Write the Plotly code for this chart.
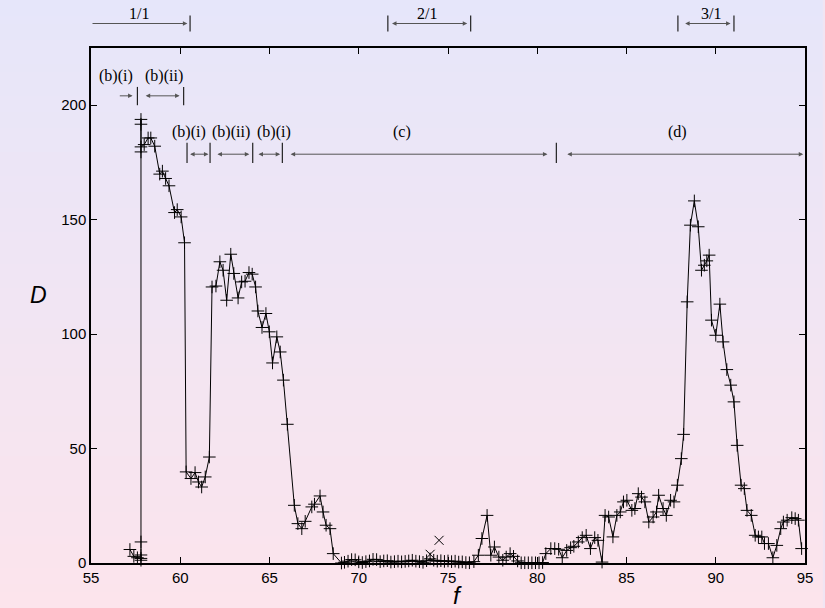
import plotly.graph_objects as go

# ---------------- data ----------------
f_vals = [57.18, 57.4, 57.6, 57.8, 57.8, 57.8, 57.8, 57.8, 57.8, 57.8, 57.8,
          57.98, 58.2, 58.35, 58.57, 58.85, 59.0, 59.18, 59.37, 59.68, 59.83, 60.05, 60.24,
          60.33, 60.6, 60.83, 61.02, 61.2, 61.4, 61.63,
          61.78, 62.0, 62.22, 62.4, 62.6, 62.83, 63.0, 63.24, 63.44, 63.63, 63.85, 64.03, 64.22,
          64.35, 64.58, 64.8, 64.99, 65.17, 65.41, 65.6, 65.78, 66.0,
          66.39, 66.59, 66.81, 67.0, 67.37, 67.52, 67.83, 68.0, 68.17, 68.39, 68.57, 69.03,
          69.2, 69.4, 69.6, 69.8, 70.0, 70.2, 70.4, 70.6, 70.8, 71.0, 71.2, 71.4, 71.6, 71.8,
          72.0, 72.2, 72.4, 72.6, 72.8, 73.0, 73.2, 73.4, 73.6, 73.8, 74.0, 74.2, 74.4, 74.6,
          74.8, 75.0, 75.2, 75.4, 75.6, 75.8, 76.0, 76.2,
          76.45, 76.7, 76.9, 77.19, 77.4, 77.6, 77.85, 78.07, 78.26, 78.48, 78.67, 78.9,
          79.1, 79.3, 79.5, 79.7, 79.9, 80.1, 80.3,
          80.48, 80.76, 80.98, 81.2, 81.4, 81.65, 81.87, 82.05, 82.3, 82.52, 82.74, 82.98,
          83.22, 83.4, 83.63, 83.8, 84.0, 84.24, 84.46, 84.65, 84.83, 85.02, 85.3, 85.47,
          85.66, 85.84, 86.03, 86.25, 86.49, 86.68, 86.8, 87.05, 87.23, 87.47, 87.66, 87.85,
          88.07, 88.2, 88.4, 88.58, 88.8, 89.02, 89.2, 89.36, 89.5, 89.63, 89.76, 90.0,
          90.23, 90.41, 90.62, 90.84, 91.02, 91.2, 91.42, 91.6, 91.75, 91.99, 92.21, 92.39,
          92.58, 92.73, 92.95, 93.2, 93.42, 93.64, 93.79, 94.0, 94.26, 94.45, 94.63, 94.81]

D_vals = [5.9, 2.9, 2.3, 2.0, 1.2, 3.5, 9.2, 193.8, 191.7, 179.6, 181.8,
          182.8, 185.7, 185.7, 182.1, 169.9, 171.2, 168.0, 164.8, 153.1, 154.4, 151.2, 139.9,
          39.8, 36.9, 39.5, 35.4, 33.2, 37.6, 46.3,
          120.6, 121.0, 131.6, 127.9, 114.8, 134.9, 126.5, 115.8, 122.8, 123.1, 126.9, 126.2, 120.6,
          110.1, 102.9, 109.0, 101.0, 87.4, 98.8, 92.2, 79.9, 60.6,
          25.2, 17.2, 15.0, 18.2, 24.5, 25.7, 29.3, 22.3, 16.5, 15.0, 4.1, 0.0,
          0.3, 0.8, 1.5, 1.4, 0.5, 0.2, 0.6, 0.9, 1.6, 1.5, 0.6, 0.9, 1.0, 0.4,
          0.6, 0.8, 0.5, 0.7, 0.9, 1.2, 0.8, 0.6, 0.3, 1.0, 1.8, 1.2, 0.8, 1.0,
          0.7, 0.9, 0.6, 0.8, 0.4, 0.5, 0.2, 0.1,
          0.6, 3.4, 10.7, 20.8, 3.4, 7.0, 2.6, 1.2, 2.6, 4.1, 2.9, 0.9,
          0.1, 0.1, 0.1, 0.1, 0.1, 0.1, 0.2,
          4.1, 6.3, 6.3, 6.0, 2.3, 5.5, 6.7, 7.3, 9.2, 11.1, 12.1, 6.3,
          11.1, 9.9, 0.4, 20.8, 20.1, 11.4, 20.8, 22.3, 26.7, 27.4, 23.0, 23.8,
          30.3, 28.8, 26.7, 17.9, 20.1, 22.3, 29.6, 23.8, 20.8, 27.4, 26.7, 34.0,
          45.6, 56.2, 114.1, 147.6, 158.2, 146.9, 127.9, 130.1, 132.0, 134.5, 106.1, 99.5,
          113.1, 96.6, 84.5, 77.7, 70.4, 51.4, 34.0, 32.5, 23.0, 20.8, 12.1, 11.4,
          11.4, 8.5, 8.5, 2.3, 7.7, 15.0, 17.9, 18.7, 19.8, 19.4, 18.7, 6.3]

# separate points drawn with x symbols
fx_vals = [74.0, 74.5]
Dx_vals = [3.8, 9.9]

x_ticks = [55, 60, 65, 70, 75, 80, 85, 90, 95]
y_ticks = [0, 50, 100, 150, 200]

# region labels: (label, text centre f, arrow from f, arrow to f, double headed)
top_labels = [("1/1", 57.67, 55.0, 60.4, False),
              ("2/1", 73.83, 71.78, 76.08, True),
              ("3/1", 89.74, 88.2, 90.83, True)]
top_bars = [60.55, 71.63, 76.27, 87.88, 91.02]

row1_labels = [("(b)(i)", 56.4, 56.53, 57.33, False),
               ("(b)(ii)", 59.1, 57.98, 59.96, True)]
row1_bars = [57.6, 60.19]

row2_labels = [("(b)(i)", 60.48, 60.47, 61.58, True),
               ("(b)(ii)", 62.84, 62.0, 63.87, True),
               ("(b)(i)", 65.27, 64.3, 65.6, True),
               ("(c)", 72.4, 66.1, 80.57, True),
               ("(d)", 87.87, 81.6, 94.9, True)]
row2_bars = [60.38, 61.67, 64.06, 65.72, 81.07]

# ---------------- figure ----------------
W, H = 825, 608
ML, MR, MT, MB = 91, 13, 48, 45
PW, PH = W - ML - MR, H - MT - MB

fig = go.Figure()
fig.add_trace(go.Scatter(x=f_vals, y=D_vals, mode="lines+markers",
                         line=dict(color="black", width=1),
                         marker=dict(symbol="cross-thin-open", size=9, color="black",
                                     line=dict(color="black", width=1)),
                         showlegend=False, cliponaxis=False))
fig.add_trace(go.Scatter(x=fx_vals, y=Dx_vals, mode="markers",
                         marker=dict(symbol="x-thin-open", size=9, color="black",
                                     line=dict(color="black", width=1)),
                         showlegend=False))

shapes = []
# vertical gradient background
top_c = (230, 230, 250)
bot_c = (252, 228, 236)
N = 76
step = H / N
for i in range(N):
    t = (i + 0.5) / N
    c = tuple(round(top_c[k] + (bot_c[k] - top_c[k]) * t) for k in range(3))
    y0_px = i * step
    y1_px = (i + 1) * step + 0.6
    shapes.append(dict(type="rect", xref="paper", yref="paper",
                       x0=(-ML - 5) / PW, x1=(W - ML + 5) / PW,
                       y0=(H - MB - y1_px) / PH, y1=(H - MB - y0_px) / PH,
                       fillcolor="rgb(%d,%d,%d)" % c, line=dict(width=0),
                       layer="below"))

annotations = []
arrow_col = "#555555"
text_font = dict(family="Liberation Serif, Times New Roman, serif", size=16, color="black")

def paper_y(px):
    return (H - MB - px) / PH

# top row (above plot)
for lab, tc, a0, a1, dbl in top_labels:
    annotations.append(dict(x=a1, y=paper_y(23.5), xref="x", yref="paper",
                            ax=a0, ay=0, axref="x", ayref="pixel", text="",
                            showarrow=True, arrowhead=2, arrowsize=0.9, arrowwidth=1,
                            arrowcolor=arrow_col,
                            arrowside="end+start" if dbl else "end"))
    annotations.append(dict(x=tc, y=paper_y(14), xref="x", yref="paper", text=lab,
                            showarrow=False, font=text_font, xanchor="center", yanchor="middle"))
for b in top_bars:
    shapes.append(dict(type="line", xref="x", yref="paper", x0=b, x1=b,
                       y0=paper_y(31.5), y1=paper_y(15.5), line=dict(color="#222", width=1.2)))

def add_row(labels, bars, y_arrow, y_text, y_bar0, y_bar1):
    for lab, tc, a0, a1, dbl in labels:
        annotations.append(dict(x=a1, y=y_arrow, xref="x", yref="y",
                                ax=a0, ay=y_arrow, axref="x", ayref="y", text="",
                                showarrow=True, arrowhead=2, arrowsize=0.9, arrowwidth=1,
                                arrowcolor=arrow_col,
                                arrowside="end+start" if dbl else "end"))
        annotations.append(dict(x=tc, y=y_text, xref="x", yref="y", text=lab,
                                showarrow=False, font=text_font,
                                xanchor="center", yanchor="middle"))
    for b in bars:
        shapes.append(dict(type="line", xref="x", yref="y", x0=b, x1=b,
                           y0=y_bar0, y1=y_bar1, line=dict(color="#222", width=1.2)))

add_row(row1_labels, row1_bars, 204.1, 212.7, 200.0, 208.0)
add_row(row2_labels, row2_bars, 178.6, 188.3, 174.8, 183.6)

# axis titles
annotations.append(dict(x=(461 - ML) / PW, y=paper_y(595), xref="paper", yref="paper",
                        text="<i>f</i>", showarrow=False,
                        font=dict(family="Liberation Sans, Arial, sans-serif", size=24, color="black"),
                        xanchor="center", yanchor="middle"))
annotations.append(dict(x=(38 - ML) / PW, y=paper_y(295), xref="paper", yref="paper",
                        text="<i>D</i>", showarrow=False,
                        font=dict(family="Liberation Sans, Arial, sans-serif", size=23, color="black"),
                        xanchor="center", yanchor="middle"))

axis_common = dict(showline=True, linecolor="black", linewidth=1.5, mirror="allticks",
                   ticks="inside", ticklen=6, tickwidth=1.2, tickcolor="black",
                   showgrid=False, zeroline=False,
                   tickfont=dict(family="Liberation Sans, Arial, sans-serif", size=15, color="black"))

fig.update_layout(
    width=W, height=H,
    margin=dict(l=ML, r=MR, t=MT, b=MB, pad=0),
    paper_bgcolor="rgb(241,229,243)",
    plot_bgcolor="rgba(0,0,0,0)",
    xaxis=dict(range=[55, 95], tickvals=x_ticks, ticktext=[str(v) for v in x_ticks], **axis_common),
    yaxis=dict(range=[0, 225], tickvals=y_ticks, ticktext=[str(v) for v in y_ticks], **axis_common),
    shapes=shapes,
    annotations=annotations,
    showlegend=False,
)

fig.write_html("out.html",
               config={"displayModeBar": False},
               post_script="document.body.style.margin='0px';document.body.style.overflow='hidden';")
